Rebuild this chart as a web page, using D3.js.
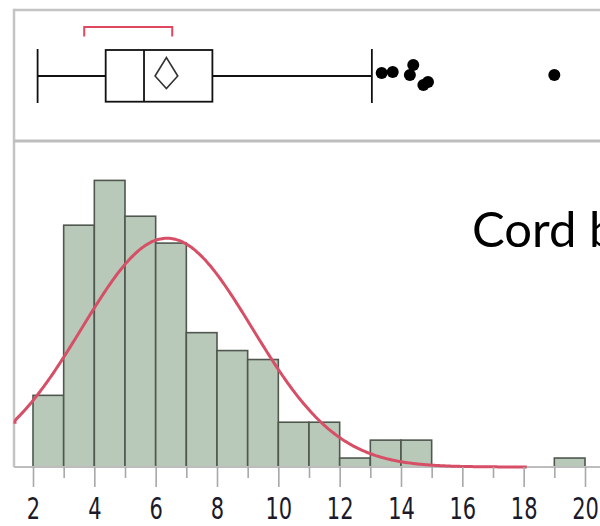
<!DOCTYPE html>
<html>
<head>
<meta charset="utf-8">
<script src="https://cdn.jsdelivr.net/npm/d3@7"></script>
<style>
  html, body { margin: 0; padding: 0; background: #ffffff; }
  svg { display: block; }
</style>
</head>
<body>
<script>
// Histogram bins (width 1) and their counts
const binStarts = [2, 3, 4, 5, 6, 7, 8, 9, 10, 11, 12, 13, 14, 19];
const binCounts = [8, 27, 32, 28, 25, 15, 13, 12, 5, 5, 1, 3, 3, 1];
const binWidth = 1;

// Normal fit
const fitMean = 6.37;
const fitSD = 2.78;
const fitN = 178;
const fitRange = [1.3, 18.1];

// Outlier box plot summary
const whiskerLow = 2.15;
const quartiles = [4.37, 5.62, 7.85]; // Q1, median, Q3
const whiskerHigh = 13.05;
const meanValue = 6.35;
const meanCI = [5.98, 6.72];
const shortestHalf = [3.67, 6.54];
const outlierValues = [13.37, 13.73, 14.29, 14.40, 14.73, 14.88, 19.0];
const outlierJitter = [-3, -4, -1, -11, 9, 6, -1];

// Axis ticks
const majorTicks = [2, 4, 6, 8, 10, 12, 14, 16, 18, 20];
const minorTicks = [3, 5, 7, 9, 11, 13, 15, 17, 19];

const W = 600, H = 526;
const frameLeft = 14, boxTop = 10, sep = 141, base = 467;
const boxMid = 76;

const svg = d3.select("body").append("svg")
  .attr("width", W).attr("height", H);

const x = d3.scaleLinear().domain([2, 20]).range([33, 585]);
const y = d3.scaleLinear().domain([0, 36.4]).range([base, sep]);

// panel frame
const frame = svg.append("g").attr("fill", "none").attr("stroke", "#c4c4c4");
frame.append("line").attr("x1", frameLeft).attr("x2", W).attr("y1", boxTop).attr("y2", boxTop).attr("stroke-width", 2.5);
frame.append("line").attr("x1", frameLeft).attr("x2", frameLeft).attr("y1", boxTop - 1.2).attr("y2", base).attr("stroke-width", 2.5);
frame.append("line").attr("x1", frameLeft).attr("x2", W).attr("y1", sep).attr("y2", sep).attr("stroke-width", 3).attr("stroke", "#bdbdbd");

// histogram bars
const bins = binStarts.map((s, i) => ({ x0: s, x1: s + binWidth, n: binCounts[i] }));
svg.append("g").selectAll("rect").data(bins).join("rect")
  .attr("x", d => x(d.x0))
  .attr("y", d => y(d.n))
  .attr("width", d => x(d.x1) - x(d.x0))
  .attr("height", d => y(0) - y(d.n))
  .attr("fill", "#b9c9b9")
  .attr("stroke", "#4f574f")
  .attr("stroke-width", 1.6);

// baseline
svg.append("line").attr("x1", frameLeft).attr("x2", W).attr("y1", base).attr("y2", base)
  .attr("stroke", "#bdbdbd").attr("stroke-width", 2);

// normal density curve scaled to counts
const pts = d3.range(fitRange[0], fitRange[1] + 0.001, 0.05).map(v => {
  const z = (v - fitMean) / fitSD;
  return [v, fitN * binWidth / (fitSD * Math.sqrt(2 * Math.PI)) * Math.exp(-0.5 * z * z)];
});
svg.append("path").datum(pts)
  .attr("fill", "none")
  .attr("stroke", "#d64f66")
  .attr("stroke-width", 3)
  .attr("stroke-linecap", "butt")
  .attr("d", d3.line().x(d => Math.max(frameLeft + 1, x(d[0]))).y(d => y(d[1])).curve(d3.curveBasis));

// x axis: major and minor ticks
const axMajor = svg.append("g").attr("transform", `translate(0,${base})`)
  .call(d3.axisBottom(x).tickValues(majorTicks).tickSize(20).tickPadding(0).tickFormat(d3.format("d")));
const axMinor = svg.append("g").attr("transform", `translate(0,${base})`)
  .call(d3.axisBottom(x).tickValues(minorTicks).tickSize(11).tickFormat(""));
[axMajor, axMinor].forEach(g => {
  g.select(".domain").remove();
  g.selectAll(".tick line").attr("stroke", "#a8a8a8").attr("stroke-width", 1.6);
});
axMajor.selectAll(".tick text")
  .attr("y", 0).attr("dy", null)
  .attr("transform", "translate(0,51.5) scale(1,1.45)")
  .attr("fill", "#1a1a2a")
  .attr("font-family", "'DejaVu Sans', Tahoma, sans-serif")
  .attr("font-size", 21)
  .attr("text-anchor", "middle");

// box plot
const bp = svg.append("g").attr("stroke", "#111").attr("stroke-width", 1.8).attr("fill", "none");
bp.append("line").attr("x1", x(whiskerLow)).attr("x2", x(quartiles[0])).attr("y1", boxMid).attr("y2", boxMid);
bp.append("line").attr("x1", x(quartiles[2])).attr("x2", x(whiskerHigh)).attr("y1", boxMid).attr("y2", boxMid);
bp.append("line").attr("x1", x(whiskerLow)).attr("x2", x(whiskerLow)).attr("y1", 49).attr("y2", 103);
bp.append("line").attr("x1", x(whiskerHigh)).attr("x2", x(whiskerHigh)).attr("y1", 49).attr("y2", 103);
bp.append("rect").attr("x", x(quartiles[0])).attr("y", 50)
  .attr("width", x(quartiles[2]) - x(quartiles[0])).attr("height", 51.7).attr("fill", "#fff");
bp.append("line").attr("x1", x(quartiles[1])).attr("x2", x(quartiles[1])).attr("y1", 50).attr("y2", 101.7);

// mean diamond spanning the confidence interval
bp.append("path")
  .attr("d", `M${x(meanCI[0])},${boxMid} L${x(meanValue)},57.5 L${x(meanCI[1])},${boxMid} L${x(meanValue)},88.5 Z`)
  .attr("stroke", "#333").attr("stroke-width", 1.6);

// shortest half bracket
svg.append("path")
  .attr("d", `M${x(shortestHalf[0])},36.5 V27 H${x(shortestHalf[1])} V36.5`)
  .attr("fill", "none").attr("stroke", "#e0485f").attr("stroke-width", 2);

// outliers
svg.append("g").selectAll("circle").data(outlierValues).join("circle")
  .attr("cx", d => x(d))
  .attr("cy", (d, i) => boxMid + outlierJitter[i])
  .attr("r", 6)
  .attr("fill", "#000");

// caption text
svg.append("text")
  .attr("x", 472).attr("y", 247)
  .attr("font-family", "Lato, 'Open Sans', sans-serif")
  .attr("font-size", 49)
  .attr("fill", "#000")
  .text("Cord b");
</script>
</body>
</html>
